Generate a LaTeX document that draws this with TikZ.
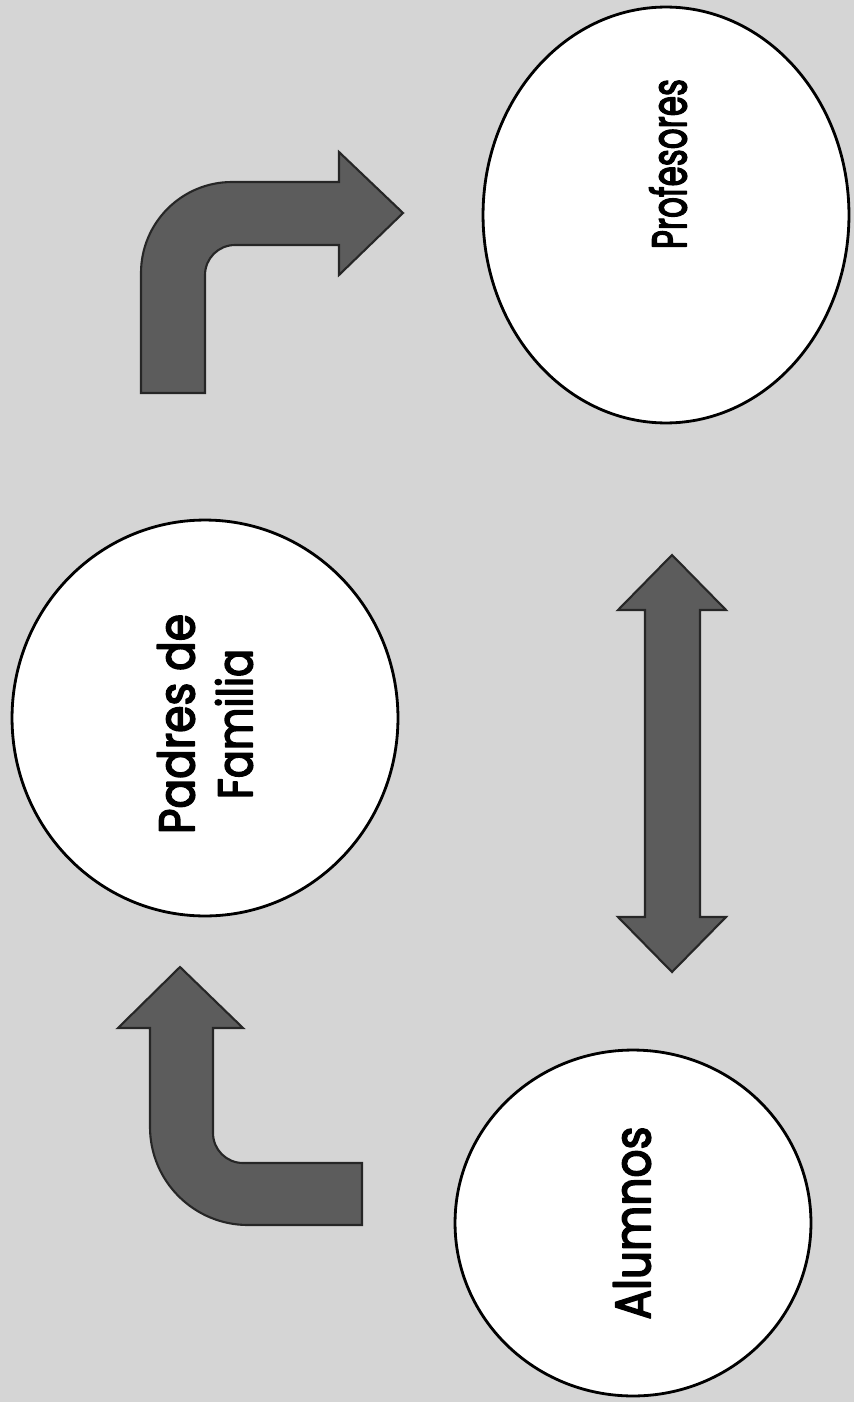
\documentclass[tikz,border=0pt]{standalone}
\usepackage{fontspec}
\setmainfont{Poppins}
\newfontfamily\lblfont{Poppins}[FakeBold=3.5]
\usepackage{graphicx}
\usetikzlibrary{shapes.geometric}
\definecolor{paper}{HTML}{D5D5D5}
\definecolor{arrowgray}{HTML}{5C5C5C}
\tikzset{
  every picture/.style={line join=round},
  actor/.style={ellipse, draw=black, line width=1.6pt, fill=white, inner sep=0pt},
  lbl/.style={rotate=90, inner sep=0pt, align=center, font=\lblfont},
  blockarrow/.style={fill=arrowgray, draw=black!85, line width=1.2pt, line join=miter},
}
% label text squeezed to the width it has in the scan
\newcommand\fitlbl[2]{\resizebox{#1}{0.74cm}{#2}}

\begin{document}
\begin{tikzpicture}[x=0.02cm, y=-0.02cm]
  \fill[paper] (0,0) rectangle (854,1402);
  % the three actors
  \node[actor, minimum width=7.32cm, minimum height=8.32cm] (prof) at (666,215) {};
  \node[actor, minimum width=7.72cm, minimum height=7.92cm] (padres) at (205,718) {};
  \node[actor, minimum width=7.12cm, minimum height=6.92cm] (alum) at (633,1223) {};
  \node[lbl] (profText) at (668,164) {\fitlbl{3.4cm}{Profesores}};
  \node[lbl, font=\lblfont\fontsize{10}{33}\selectfont] (padresText) at (205,724)
    {\fitlbl{4.4cm}{Padres de}\\\fitlbl{3.0cm}{Familia}};
  \node[lbl] (alumText) at (632,1223) {\fitlbl{3.86cm}{Alumnos}};
  % bent arrow, top left
  \draw[blockarrow] (141,393) -- (141,273) arc[start angle=180, end angle=270, radius=91]
    -- (339,182) -- (339,152) -- (403,213) -- (339,275) -- (339,245) -- (235,245)
    arc[start angle=270, end angle=180, radius=30] -- (205,393) -- cycle;
  % bent arrow, bottom left
  \draw[blockarrow] (362,1163) -- (243,1163) arc[start angle=90, end angle=180, radius=30]
    -- (213,1028) -- (243,1028) -- (180,967) -- (118,1028) -- (150,1028) -- (150,1127)
    arc[start angle=180, end angle=90, radius=98] -- (362,1225) -- cycle;
  % double arrow between Profesores and Alumnos
  \draw[blockarrow] (672,555) -- (726,610) -- (700,610) -- (700,917) -- (726,917)
    -- (672,972) -- (618,917) -- (645,917) -- (645,610) -- (618,610) -- cycle;
\end{tikzpicture}
\end{document}
